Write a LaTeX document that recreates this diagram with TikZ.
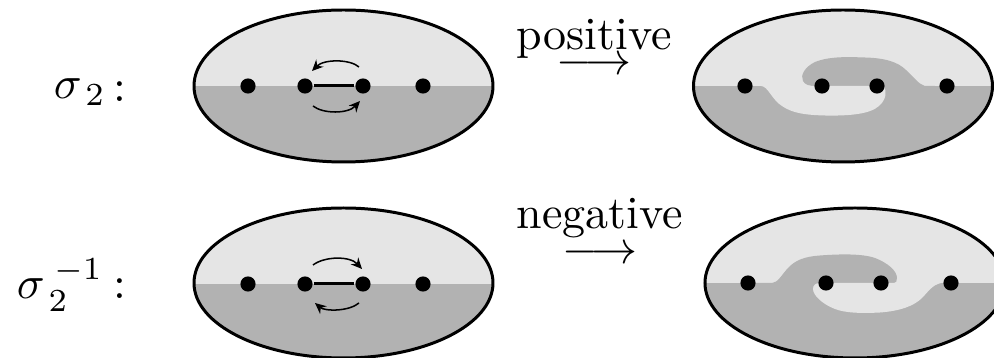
\documentclass[tikz,border=0pt]{standalone}
\usetikzlibrary{arrows.meta}
\definecolor{lite}{gray}{0.9}
\definecolor{drk}{gray}{0.7}
\tikzset{
  dot/.style={circle,fill=black,inner sep=0pt,minimum size=3.3pt},
  rim/.style={line width=0.65pt},
  bar/.style={line width=0.65pt},
  swirl/.style={line width=0.33pt,-{Stealth[length=2.4pt,width=2.2pt]}},
  lbl/.style={inner sep=0pt},
  maplbl/.style={inner sep=0pt,align=center,anchor=base},
}
\begin{document}
\begin{tikzpicture}[x=0.2174pt,y=-0.2174pt]
\useasboundingbox (0,0) rectangle (994,358);

% ---------- top left ellipse ----------
\begin{scope}
  \clip (343.5,86) ellipse [x radius=149.5, y radius=76];
  \fill[lite] (190,5) rectangle (500,170);
  \fill[drk] (190,86) rectangle (500,170);
\end{scope}
\draw[rim] (343.5,86) ellipse [x radius=149.5, y radius=76];
\node[dot] (a1) at (248,86) {};
\node[dot] (a2) at (305,86) {};
\node[dot] (a3) at (363,86) {};
\node[dot] (a4) at (423,86) {};
\draw[bar] (a2) -- (a3);
\coordinate (at1) at (359,67);  \coordinate (at2) at (312,71);
\coordinate (ab1) at (313,106); \coordinate (ab2) at (360,101);
\draw[swirl] (at1) .. controls (350,59) and (324,59) .. (at2);
\draw[swirl] (ab1) .. controls (323,114) and (348,114) .. (ab2);

% ---------- top right ellipse ----------
\begin{scope}
  \clip (843,86) ellipse [x radius=149.5, y radius=76];
  \fill[lite] (690,5) rectangle (1000,170);
  \fill[drk] (690,86) rectangle (1000,170);
  \fill[drk] (935,86) -- (925,86) .. controls (918,84) and (914,77) .. (906,70)
     .. controls (898,62) and (885,58) .. (865,57.5)
     .. controls (850,57) and (830,56) .. (815,62)
     .. controls (805,67) and (800,75) .. (803,81)
     .. controls (805,85) and (810,86) .. (815,86) -- cycle;
  \fill[lite] (750,86) -- (761,86) .. controls (768,86) and (772,100) .. (782,106)
     .. controls (792,113) and (805,115) .. (825,115.5)
     .. controls (850,116) and (870,114) .. (879,106)
     .. controls (886,100) and (887,92) .. (884,86) -- cycle;
\end{scope}
\draw[rim] (843,86) ellipse [x radius=149.5, y radius=76];
\node[dot] (b1) at (745,86) {};
\node[dot] (b2) at (822,86) {};
\node[dot] (b3) at (877,86) {};
\node[dot] (b4) at (947,86) {};

% ---------- bottom left ellipse ----------
\begin{scope}
  \clip (343.5,283) ellipse [x radius=149.5, y radius=75];
  \fill[lite] (190,200) rectangle (500,365);
  \fill[drk] (190,284) rectangle (500,365);
\end{scope}
\draw[rim] (343.5,283) ellipse [x radius=149.5, y radius=75];
\node[dot] (c1) at (248,284) {};
\node[dot] (c2) at (305,284) {};
\node[dot] (c3) at (363,284) {};
\node[dot] (c4) at (423,284) {};
\draw[bar] (c2) -- (c3);
\coordinate (ct1) at (313,265); \coordinate (ct2) at (362,269);
\coordinate (cb1) at (359,303); \coordinate (cb2) at (315,303);
\draw[swirl] (ct1) .. controls (325,256) and (350,256) .. (ct2);
\draw[swirl] (cb1) .. controls (349,311.5) and (325,311.5) .. (cb2);

% ---------- bottom right ellipse ----------
\begin{scope}
  \clip (855,283) ellipse [x radius=150, y radius=75];
  \fill[lite] (700,200) rectangle (1010,365);
  \fill[drk] (700,283) rectangle (1010,365);
  \fill[drk] (745,283) -- (772,283) .. controls (778,283) and (782,274) .. (789,267)
     .. controls (796,260) and (805,256.5) .. (820,255.5)
     .. controls (840,254) and (862,253.5) .. (875,258)
     .. controls (888,263) and (897,271) .. (897,278)
     .. controls (897,281) and (896,283) .. (894,283) -- cycle;
  \fill[lite] (955,283) -- (941,283) .. controls (932,285) and (928,292) .. (922,298)
     .. controls (914,306) and (900,311) .. (880,312.5)
     .. controls (862,313.5) and (845,313) .. (835,309)
     .. controls (822,304) and (813,295) .. (813,289)
     .. controls (813,285) and (816,283) .. (820,283) -- cycle;
\end{scope}
\draw[rim] (855,283) ellipse [x radius=150, y radius=75];
\node[dot] (d1) at (748,283) {};
\node[dot] (d2) at (826,283) {};
\node[dot] (d3) at (881,283) {};
\node[dot] (d4) at (951,283) {};

% ---------- labels ----------
\node[lbl,anchor=base west] (s1) at (53,99) {$\sigma_{\kern1.1pt 2}$};
\node[lbl,anchor=base west] (k1) at (113,102) {:};
\node[lbl,anchor=base west] (s2) at (16,299) {$\sigma^{\kern2pt -1}_{\kern1.2pt 2}$};
\node[lbl,anchor=base west] (k2) at (113,299) {:};

\node[maplbl] (p) at (594,75) {positive\\[-6.5pt]$\longrightarrow$};
\node[maplbl] (n) at (600,264) {negative\\[-4.2pt]$\longrightarrow$};
\end{tikzpicture}
\end{document}
